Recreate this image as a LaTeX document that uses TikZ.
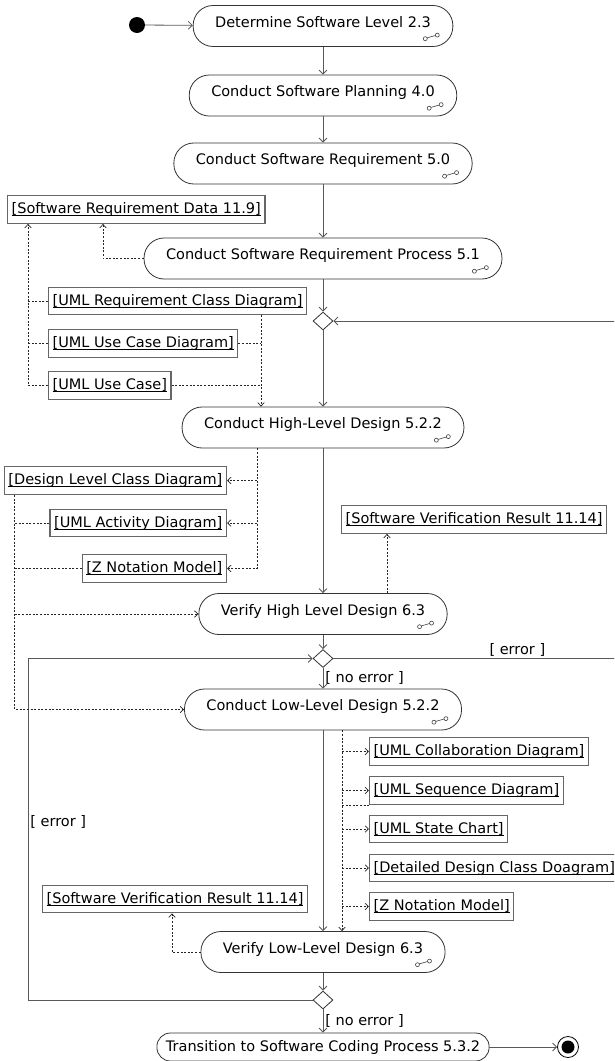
\documentclass[tikz,border=0pt]{standalone}
\usepackage{fontspec}
\setmainfont{DejaVu Sans}
\usetikzlibrary{arrows.meta,shapes.geometric}
% small sub-activity mark in the lower right of an action
\def\subact#1{%
	\begin{scope}[shift={([xshift=-22pt,yshift=10pt]#1.south east)}, color=black!75, line width=0.6pt]
		\draw (-6,1.8) circle (2);
		\draw (6,-1.8) circle (2);
		\draw (-4.2,1) -- (4.1,-1.4);
	\end{scope}}
% object name, underlined close under the baseline
\def\objname#1{{\setbox0\hbox{#1}\rlap{\rule[-2.2pt]{\wd0}{0.7pt}}\box0}}
\tikzset{
	act/.style={draw=black!80, line width=0.8pt, fill=white, rounded corners=20pt, minimum height=41pt, inner xsep=22pt, text height=10.5pt, text depth=8pt},
	transact/.style={draw=black!80, line width=0.8pt, fill=white, rounded corners=13.5pt, minimum height=28pt, inner xsep=9pt},
	obj/.style={draw=black!60, line width=1.3pt, fill=white, inner xsep=4pt, minimum height=27.5pt},
	decision/.style={diamond, draw=black!80, line width=0.8pt, fill=white, minimum width=20pt, minimum height=18pt, inner sep=0pt},
	startnode/.style={circle, fill=black, minimum size=16pt, inner sep=0pt},
	endnode/.style={circle, draw=black, line width=0.8pt, minimum size=21pt, inner sep=0pt},
	guard/.style={inner sep=2pt},
	flow/.style={draw=black!65, line width=0.8pt, -{Straight Barb[length=4pt,width=8pt]}},
	objline/.style={draw=black!85, line width=0.7pt, dash pattern=on 2pt off 1.6pt},
	objflow/.style={objline, -{Straight Barb[length=3.5pt,width=6.5pt]}}
}

\begin{document}
\begin{tikzpicture}[x=1pt, y=-1pt, font=\fontsize{14.5}{17}\selectfont]
	%%%%% START %%%%%
	\useasboundingbox (0,0) rectangle (614,1061);
	\clip (0,0) rectangle (614,1061);
	
	% actions down the middle
	\node[startnode] (start) at (137,25) {};
	\node[act] (act1) at (323,26) {Determine Software Level 2.3};
	\node[act] (act2) at (323,95.5) {Conduct Software Planning 4.0};
	\node[act] (act3) at (323,163.5) {Conduct Software Requirement 5.0};
	\node[act] (reqproc) at (323,258.5) {Conduct Software Requirement Process 5.1};
	\node[decision] (dec1) at (323,321) {};
	\node[act] (hld) at (323,427.5) {Conduct High-Level Design 5.2.2};
	\node[act] (vhld) at (323,614) {Verify High Level Design 6.3};
	\node[decision] (dec2) at (323,658.5) {};
	\node[act] (lld) at (323,709.5) {Conduct Low-Level Design 5.2.2};
	\node[act] (vlld) at (323,952) {Verify Low-Level Design 6.3};
	\node[decision] (dec3) at (323,1000) {};
	\node[transact] (trans) at (323,1047) {Transition to Software Coding Process 5.3.2};
	\node[endnode] (finish) at (568,1047) {};
	\fill[black] (finish) circle (6.5);
	
	\foreach \a in {act1,act2,act3,reqproc,hld,vhld,lld,vlld}
		\subact{\a};
	
	% objects
	\node[obj, anchor=west] (srd) at (7,209.5) {\objname{[Software Requirement Data 11.9]}};
	\node[obj, anchor=west] (umlreq) at (48,301) {\objname{[UML Requirement Class Diagram]}};
	\node[obj, anchor=west] (umlucd) at (48,343.5) {\objname{[UML Use Case Diagram]}};
	\node[obj, anchor=west] (umluc) at (48,385.5) {\objname{[UML Use Case]}};
	
	\node[obj, anchor=east] (dlcd) at (227,480.5) {\objname{[Design Level Class Diagram]}};
	\node[obj, anchor=east] (umlad) at (227,523) {\objname{[UML Activity Diagram]}};
	\node[obj, anchor=east] (znm) at (227,568.5) {\objname{[Z Notation Model]}};
	\node[obj, anchor=west] (svrhigh) at (341,519.5) {\objname{[Software Verification Result 11.14]}};
	
	\node[obj, anchor=west] (collab) at (369,751.5) {\objname{[UML Collaboration Diagram]}};
	\node[obj, anchor=west] (seqd) at (369,790.5) {\objname{[UML Sequence Diagram]}};
	\node[obj, anchor=west] (statec) at (369,829) {\objname{[UML State Chart]}};
	\node[obj, anchor=west] (ddcd) at (369,868) {\objname{[Detailed Design Class Doagram]}};
	\node[obj, anchor=west] (znmlow) at (369,906.5) {\objname{[Z Notation Model]}};
	\node[obj, anchor=west] (svrlow) at (42,899) {\objname{[Software Verification Result 11.14]}};
	
	% control flow
	\draw[flow] (start) -- (act1);
	\draw[flow] (act1) -- (act2);
	\draw[flow] (act2) -- (act3);
	\draw[flow] (act3) -- (reqproc);
	\draw[flow] (reqproc) -- (dec1);
	\draw[flow] (dec1) -- (hld);
	\draw[flow] (hld) -- (vhld);
	\draw[flow] (vhld) -- (dec2);
	\draw[flow] (dec2) -- node[guard, right] (okhigh) {[ no error ]} (lld);
	\draw[flow] (lld) -- (vlld);
	\draw[flow] (vlld) -- (dec3);
	\draw[flow] (dec3) -- node[guard, right] (oklow) {[ no error ]} (trans);
	\draw[flow] (trans) -- (finish);
	
	% loops back on error
	\coordinate (rloop) at (640,0);
	\coordinate (lloop) at (28,0);
	\draw[flow] (dec2.east) -- node[guard, above, pos=0.6] (errhigh) {[ error ]} (dec2.east -| rloop) |- (dec1.east);
	\draw[flow] (dec3.west) -| node[guard, right, pos=0.76] (errlow) {[ error ]} (lloop |- dec2.west) -- (dec2.west);
	
	% object flow, requirements
	\coordinate (srdtap) at ([xshift=96pt]srd.south west);
	\draw[objflow] (reqproc.west) -| (srdtap);
	\coordinate (usetap) at ([xshift=21pt]srd.south west);
	\draw[objflow] (umluc.west) -| (usetap);
	\draw[objline] (umlreq.west) -- (umlreq.west -| usetap);
	\draw[objline] (umlucd.west) -- (umlucd.west -| usetap);
	\coordinate (reqtap) at ([xshift=213pt]umlreq.south west);
	\draw[objflow] (reqtap) -- (reqtap |- hld.north);
	\draw[objline] (umlucd.east) -- (umlucd.east -| reqtap);
	\draw[objline] (umluc.east) -- (umluc.east -| reqtap);
	
	% object flow, high-level design
	\coordinate (hldtap) at ([xshift=-66pt]hld.south);
	\draw[objflow] (hldtap) |- (znm.east);
	\draw[objflow] (hldtap |- umlad.east) -- (umlad.east);
	\draw[objflow] (hldtap |- dlcd.east) -- (dlcd.east);
	\coordinate (desigtap) at ([xshift=11pt]dlcd.south west);
	\draw[objflow] (desigtap) |- (lld.west);
	\draw[objflow] (desigtap |- vhld.west) -- (vhld.west);
	\draw[objline] (umlad.west) -- (umlad.west -| desigtap);
	\draw[objline] (znm.west) -- (znm.west -| desigtap);
	\coordinate (svtap) at ([xshift=64pt]vhld.north);
	\draw[objflow] (svtap) -- (svtap |- svrhigh.south);
	
	% object flow, low-level design
	\coordinate (lowtap) at ([xshift=19pt]lld.south);
	\draw[objflow] (lowtap) -- (lowtap |- vlld.north);
	\foreach \b in {collab,seqd,statec,ddcd,znmlow}
		\draw[objflow] (lowtap |- \b.west) -- (\b.west);
	\draw[objline] (lowtap |- seqd.south west) -- (seqd.south west);
	\coordinate (svlowtap) at ([xshift=130pt]svrlow.south west);
	\draw[objflow] (vlld.west) -| (svlowtap);
	
	%%%%% END %%%%%
\end{tikzpicture}
\end{document}
